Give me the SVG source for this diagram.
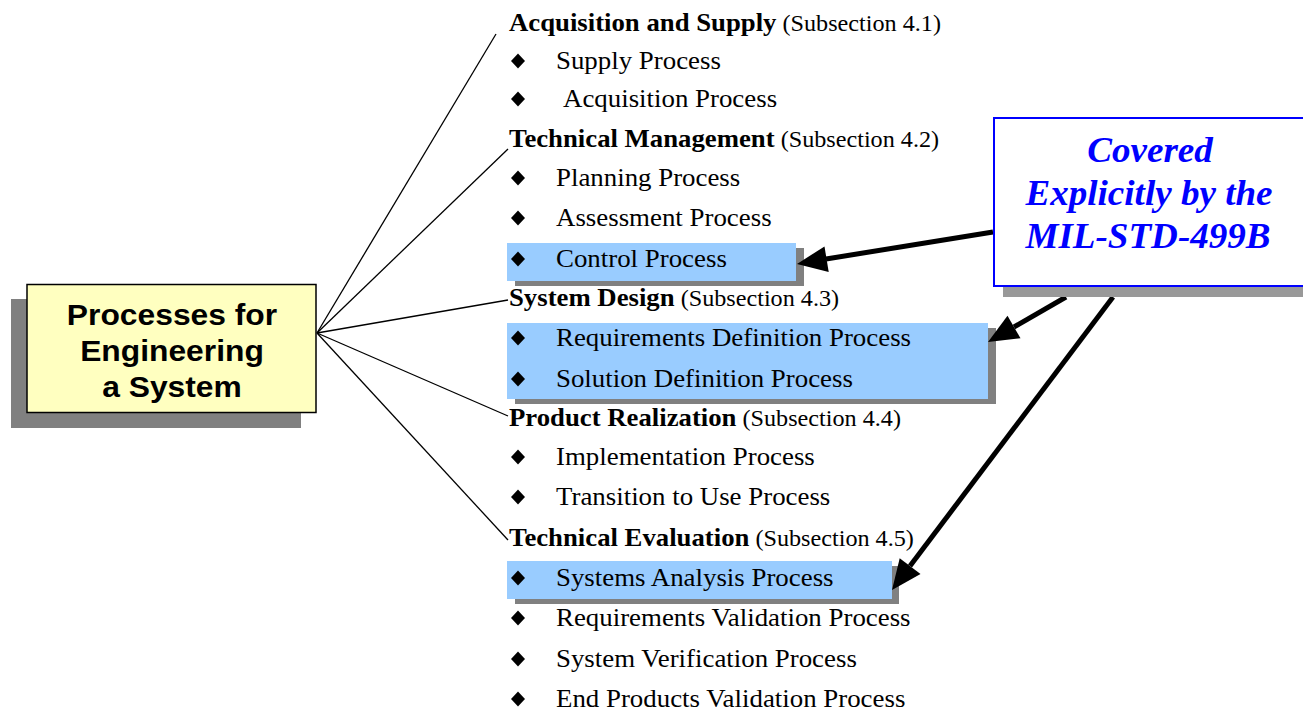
<svg xmlns="http://www.w3.org/2000/svg" width="1303" height="711" viewBox="0 0 1303 711">
<style>
.hb{font-family:"Liberation Serif","Times New Roman",serif;font-weight:bold;font-size:25px;fill:#000}
.sub{font-family:"Liberation Serif","Times New Roman",serif;font-size:22.6px;fill:#000}
.it{font-family:"Liberation Serif","Times New Roman",serif;font-size:25px;fill:#000}
.main{font-family:"Liberation Sans",Arial,sans-serif;font-weight:bold;font-size:30px;fill:#000;text-anchor:middle}
.cov{font-family:"Liberation Serif","Times New Roman",serif;font-weight:bold;font-style:italic;font-size:35px;fill:#0000FF;text-anchor:middle}
.shadow{fill:#808080}
.hl{fill:#99CCFF}
.fan{stroke:#000;stroke-width:1.3;fill:none}
.arr{stroke:#000;stroke-width:5;fill:none}
.head{fill:#000}
</style>
<defs>
<polygon id="dia" points="0,-7.5 7,0 0,7.5 -7,0" fill="#000"/>
</defs>

<!-- highlight boxes -->
<g id="hl-control">
<rect class="shadow" x="515" y="248" width="289" height="38"/>
<rect class="hl" x="507" y="243" width="289" height="38"/>
</g>
<g id="hl-design">
<rect class="shadow" x="515" y="328" width="481" height="76"/>
<rect class="hl" x="507" y="323" width="481" height="76"/>
</g>
<g id="hl-analysis">
<rect class="shadow" x="515" y="566" width="384" height="38"/>
<rect class="hl" x="507" y="561" width="385" height="38"/>
</g>

<g id="connectors">
<line class="fan" x1="317" y1="333" x2="496" y2="34"/>
<line class="fan" x1="317" y1="333" x2="508" y2="149"/>
<line class="fan" x1="317" y1="333" x2="508" y2="300"/>
<line class="fan" x1="317" y1="333" x2="508" y2="416"/>
<line class="fan" x1="317" y1="333" x2="508" y2="540"/>
<line class="arr" x1="993" y1="232" x2="826" y2="259"/>
<polygon class="head" points="797,264 828.7,272 824.5,246.4"/>
<line class="arr" x1="1066" y1="297" x2="1014" y2="327"/>
<polygon class="head" points="988,342 1020.5,338.3 1007.5,315.7"/>
<line class="arr" x1="1113" y1="297" x2="910" y2="566"/>
<polygon class="head" points="892,590 920.5,573.9 899.7,558.3"/>
</g>

<g id="root">
<rect class="shadow" x="11" y="299" width="290" height="129"/>
<rect x="27" y="284.5" width="289" height="128" fill="#FFFFC0" stroke="#000" stroke-width="1.5"/>
<text class="main" transform="translate(172,325) scale(1.06,1)">Processes for</text>
<text class="main" transform="translate(172,361) scale(1.06,1)">Engineering</text>
<text class="main" transform="translate(172,397) scale(1.06,1)">a System</text>
</g>

<g id="covered">
<rect x="1003" y="127" width="310" height="170" fill="#999999"/>
<rect x="994" y="118" width="320" height="168" fill="#FFFFFF" stroke="#0000FF" stroke-width="2"/>
<text class="cov" transform="translate(1150,162) scale(1.06,1)">Covered</text>
<text class="cov" transform="translate(1149,205) scale(1.06,1)">Explicitly by the</text>
<text class="cov" transform="translate(1148,248) scale(1.06,1)">MIL-STD-499B</text>
</g>

<g id="g41">
<text transform="translate(509,31) scale(1.07,1)"><tspan class="hb">Acquisition and Supply</tspan><tspan class="sub"> (Subsection 4.1)</tspan></text>
<use href="#dia" x="518" y="61"/>
<text class="it" transform="translate(556,69) scale(1.075,1)">Supply Process</text>
<use href="#dia" x="518" y="99"/>
<text class="it" transform="translate(563,107) scale(1.075,1)">Acquisition Process</text>
</g>

<g id="g42">
<text transform="translate(509,147) scale(1.07,1)"><tspan class="hb">Technical Management</tspan><tspan class="sub"> (Subsection 4.2)</tspan></text>
<use href="#dia" x="518" y="178"/>
<text class="it" transform="translate(556,186) scale(1.075,1)">Planning Process</text>
<use href="#dia" x="518" y="218"/>
<text class="it" transform="translate(556,226) scale(1.075,1)">Assessment Process</text>
<use href="#dia" x="518" y="259"/>
<text class="it" transform="translate(556,267) scale(1.075,1)">Control Process</text>
</g>

<g id="g43">
<text transform="translate(509,306) scale(1.07,1)"><tspan class="hb">System Design</tspan><tspan class="sub"> (Subsection 4.3)</tspan></text>
<use href="#dia" x="518" y="338"/>
<text class="it" transform="translate(556,346) scale(1.075,1)">Requirements Definition Process</text>
<use href="#dia" x="518" y="379"/>
<text class="it" transform="translate(556,387) scale(1.075,1)">Solution Definition Process</text>
</g>

<g id="g44">
<text transform="translate(509,426) scale(1.07,1)"><tspan class="hb">Product Realization</tspan><tspan class="sub"> (Subsection 4.4)</tspan></text>
<use href="#dia" x="518" y="457"/>
<text class="it" transform="translate(556,465) scale(1.075,1)">Implementation Process</text>
<use href="#dia" x="518" y="497"/>
<text class="it" transform="translate(556,505) scale(1.075,1)">Transition to Use Process</text>
</g>

<g id="g45">
<text transform="translate(509,546) scale(1.07,1)"><tspan class="hb">Technical Evaluation</tspan><tspan class="sub"> (Subsection 4.5)</tspan></text>
<use href="#dia" x="518" y="578"/>
<text class="it" transform="translate(556,586) scale(1.075,1)">Systems Analysis Process</text>
<use href="#dia" x="518" y="618"/>
<text class="it" transform="translate(556,626) scale(1.075,1)">Requirements Validation Process</text>
<use href="#dia" x="518" y="659"/>
<text class="it" transform="translate(556,667) scale(1.075,1)">System Verification Process</text>
<use href="#dia" x="518" y="699"/>
<text class="it" transform="translate(556,707) scale(1.075,1)">End Products Validation Process</text>
</g>
</svg>
